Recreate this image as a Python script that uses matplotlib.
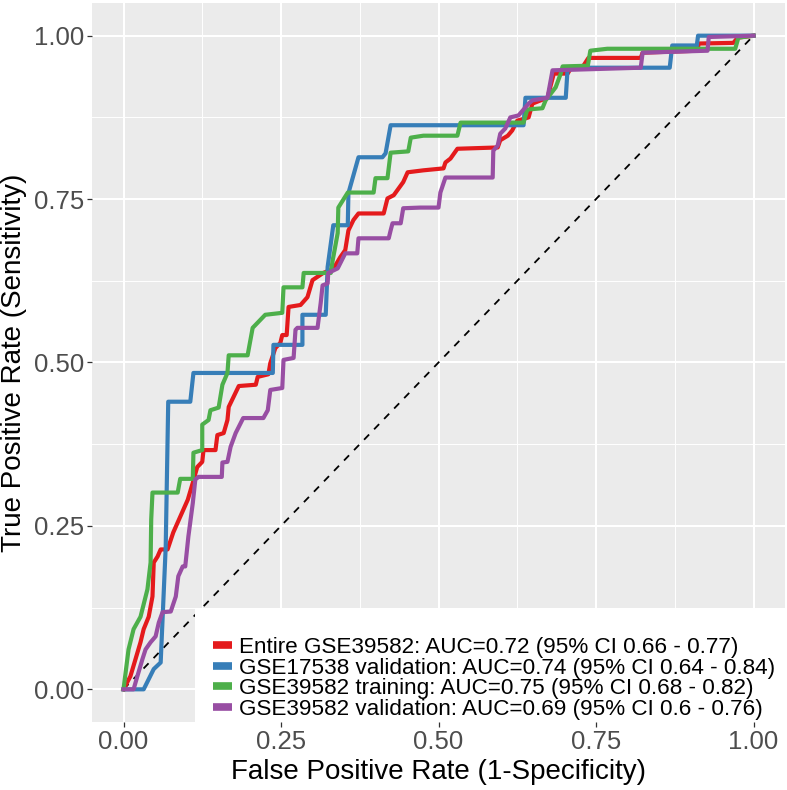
import matplotlib
matplotlib.use("Agg")
import matplotlib.pyplot as plt
from matplotlib.lines import Line2D
from matplotlib.patches import Rectangle

plt.rcParams['font.family'] = ['Liberation Sans', 'DejaVu Sans']

labels = [
    "Entire GSE39582: AUC=0.72 (95% CI 0.66 - 0.77)",
    "GSE17538 validation: AUC=0.74 (95% CI 0.64 - 0.84)",
    "GSE39582 training: AUC=0.75 (95% CI 0.68 - 0.82)",
    "GSE39582 validation: AUC=0.69 (95% CI 0.6 - 0.76)",
]
colors = ['#E41A1C', '#377EB8', '#4DAF4A', '#984EA3']

# ROC points (FPR, TPR)
entire_fpr = [0, 0.011, 0.019, 0.027, 0.032, 0.040, 0.046, 0.048, 0.054, 0.059, 0.070, 0.079,
              0.090, 0.102, 0.110, 0.117, 0.125, 0.127, 0.146, 0.149, 0.159, 0.165, 0.167, 0.183,
              0.210, 0.213, 0.230, 0.233, 0.241, 0.249, 0.252, 0.259, 0.262, 0.281, 0.292, 0.300,
              0.317, 0.333, 0.344, 0.352, 0.357, 0.365, 0.373, 0.413, 0.419, 0.429, 0.444, 0.451,
              0.476, 0.508, 0.511, 0.519, 0.530, 0.594, 0.598, 0.610, 0.617, 0.625, 0.643, 0.649,
              0.662, 0.673, 0.683, 0.705, 0.710, 0.730, 0.738, 0.821, 0.824, 0.911, 0.913, 0.968,
              0.975, 1.0]
entire_tpr = [0, 0.020, 0.046, 0.072, 0.092, 0.111, 0.142, 0.194, 0.203, 0.214, 0.214, 0.240,
              0.264, 0.290, 0.316, 0.340, 0.348, 0.366, 0.366, 0.389, 0.392, 0.412, 0.432, 0.464,
              0.466, 0.478, 0.482, 0.499, 0.522, 0.530, 0.542, 0.542, 0.585, 0.588, 0.600, 0.626,
              0.637, 0.643, 0.661, 0.672, 0.702, 0.718, 0.728, 0.728, 0.751, 0.756, 0.776, 0.791,
              0.794, 0.797, 0.806, 0.812, 0.827, 0.829, 0.840, 0.847, 0.855, 0.870, 0.875, 0.896,
              0.901, 0.905, 0.942, 0.942, 0.950, 0.954, 0.966, 0.966, 0.974, 0.977, 0.988, 0.989,
              0.997, 1.0]

gse17538_fpr = [0, 0.032, 0.048, 0.059, 0.067, 0.071, 0.106, 0.111, 0.237, 0.238, 0.284, 0.284,
                0.321, 0.324, 0.333, 0.356, 0.357, 0.373, 0.411, 0.416, 0.424, 0.635, 0.638, 0.702,
                0.705, 0.867, 0.871, 0.910, 0.912, 1.0]
gse17538_tpr = [0, 0, 0.031, 0.041, 0.218, 0.440, 0.440, 0.484, 0.484, 0.527, 0.527, 0.573,
                0.573, 0.646, 0.710, 0.710, 0.759, 0.814, 0.814, 0.820, 0.863, 0.863, 0.905, 0.905,
                0.951, 0.951, 0.985, 0.985, 1.0, 1.0]

training_fpr = [0, 0.008, 0.016, 0.027, 0.038, 0.043, 0.044, 0.046, 0.086, 0.090, 0.110, 0.111,
                0.125, 0.125, 0.135, 0.138, 0.151, 0.157, 0.165, 0.167, 0.197, 0.205, 0.225, 0.252,
                0.254, 0.284, 0.286, 0.329, 0.332, 0.340, 0.341, 0.356, 0.397, 0.400, 0.419, 0.424,
                0.452, 0.456, 0.476, 0.530, 0.535, 0.635, 0.641, 0.665, 0.670, 0.686, 0.694, 0.697,
                0.737, 0.741, 0.768, 0.971, 0.976, 1.0]
training_tpr = [0, 0.061, 0.092, 0.111, 0.153, 0.194, 0.260, 0.301, 0.301, 0.322, 0.322, 0.362,
                0.366, 0.405, 0.412, 0.427, 0.431, 0.466, 0.484, 0.511, 0.511, 0.553, 0.573, 0.576,
                0.615, 0.615, 0.637, 0.637, 0.656, 0.698, 0.737, 0.760, 0.760, 0.782, 0.782, 0.821,
                0.823, 0.844, 0.847, 0.847, 0.867, 0.867, 0.887, 0.889, 0.901, 0.921, 0.942, 0.953,
                0.954, 0.977, 0.980, 0.980, 0.997, 1.0]

validation_fpr = [0, 0.016, 0.022, 0.030, 0.035, 0.043, 0.051, 0.056, 0.062, 0.075, 0.083, 0.087,
                  0.094, 0.098, 0.103, 0.110, 0.114, 0.119, 0.156, 0.157, 0.165, 0.170, 0.178, 0.190,
                  0.222, 0.229, 0.233, 0.252, 0.254, 0.270, 0.273, 0.276, 0.308, 0.313, 0.316, 0.324,
                  0.325, 0.340, 0.352, 0.371, 0.373, 0.421, 0.424, 0.427, 0.440, 0.444, 0.471, 0.500,
                  0.503, 0.511, 0.586, 0.587, 0.594, 0.598, 0.606, 0.614, 0.627, 0.643, 0.649, 0.673,
                  0.681, 0.821, 0.824, 0.927, 0.929, 1.0]
validation_tpr = [0, 0, 0.020, 0.046, 0.061, 0.072, 0.081, 0.102, 0.118, 0.119, 0.142, 0.173,
                  0.188, 0.188, 0.234, 0.285, 0.321, 0.325, 0.325, 0.347, 0.348, 0.371, 0.392, 0.415,
                  0.415, 0.427, 0.458, 0.461, 0.504, 0.507, 0.550, 0.553, 0.553, 0.591, 0.618, 0.621,
                  0.637, 0.644, 0.667, 0.667, 0.690, 0.690, 0.702, 0.713, 0.713, 0.736, 0.737, 0.737,
                  0.760, 0.783, 0.783, 0.824, 0.832, 0.850, 0.858, 0.875, 0.878, 0.896, 0.901, 0.905,
                  0.947, 0.951, 0.974, 0.977, 0.998, 1.0]

curves = [(entire_fpr, entire_tpr), (gse17538_fpr, gse17538_tpr),
          (training_fpr, training_tpr), (validation_fpr, validation_tpr)]

fig = plt.figure(figsize=(7.87, 7.90), dpi=100)
ax = fig.add_axes([92 / 787, 1 - 722 / 790, 693 / 787, 719 / 790])
ax.set_facecolor('#EBEBEB')
for s in ax.spines.values():
    s.set_visible(False)

ax.plot([0, 1], [0, 1], color='black', lw=1.3, linestyle=(0, (4, 4)), zorder=2)
for (x, y), c in zip(curves, colors):
    ax.plot(x, y, color=c, lw=3, zorder=3)

ax.set_xlim(-0.05, 1.05)
ax.set_ylim(-0.05, 1.05)
ticks = [0, 0.25, 0.5, 0.75, 1.0]
ax.set_xticks(ticks)
ax.set_yticks(ticks)
ax.set_xticklabels(['0.00', '0.25', '0.50', '0.75', '1.00'])
ax.set_yticklabels(['0.00', '0.25', '0.50', '0.75', '1.00'])
ax.set_xticks([0.125, 0.375, 0.625, 0.875], minor=True)
ax.set_yticks([0.125, 0.375, 0.625, 0.875], minor=True)
ax.tick_params(which='major', length=3.5, width=0.9, color='#333333', labelsize=18.5,
               labelcolor='#4D4D4D', pad=2.2)
ax.tick_params(which='minor', length=0)
ax.grid(which='major', color='white', lw=1.5)
ax.grid(which='minor', color='white', lw=0.7)
ax.set_axisbelow(True)

ax.set_xlabel("False Positive Rate (1-Specificity)", fontsize=20, labelpad=4)
ax.set_ylabel("True Positive Rate (Sensitivity)", fontsize=20, labelpad=5)

# legend box
ax.add_patch(Rectangle((103 / 693, 0), 1 - 103 / 693, 114 / 719, transform=ax.transAxes,
                       facecolor='white', edgecolor='none', zorder=4))
handles = [Line2D([], [], color=c, lw=5.5, solid_capstyle='butt') for c in colors]
ax.legend(handles, labels, loc='lower left', bbox_to_anchor=(119 / 693, 0.0),
          frameon=False, fontsize=16.2, handlelength=0.85, handletextpad=0.3,
          labelspacing=-0.02, borderpad=0.1, borderaxespad=0.0)

fig.savefig("out.png", dpi=100)
